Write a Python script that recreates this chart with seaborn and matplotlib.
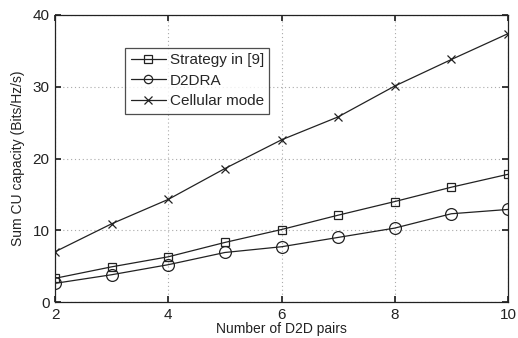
import matplotlib
matplotlib.use("Agg")
import matplotlib.pyplot as plt
import seaborn as sns
import pandas as pd

pairs = [2, 3, 4, 5, 6, 7, 8, 9, 10]
strategy9 = [3.3, 4.9, 6.3, 8.3, 10.1, 12.1, 14.0, 16.0, 17.8]
d2dra = [2.6, 3.8, 5.2, 6.9, 7.7, 9.0, 10.3, 12.3, 12.9]
cellular = [7.0, 10.9, 14.3, 18.6, 22.6, 25.8, 30.1, 33.8, 37.4]
series_names = ["Strategy in [9]", "D2DRA", "Cellular mode"]
markers = ["s", "o", "x"]
marker_sizes = [5.5, 8.5, 6]

sns.set_theme(style="white")
plt.rcParams["font.family"] = ["Liberation Sans", "DejaVu Sans"]

df = pd.DataFrame({
    "pairs": pairs * 3,
    "capacity": strategy9 + d2dra + cellular,
    "scheme": sum([[n] * len(pairs) for n in series_names], []),
})

fig = plt.figure(figsize=(5.18, 3.38), dpi=100)
ax = fig.add_axes([55 / 518, 36 / 338, 453 / 518, 287 / 338])

for name, mk, ms in zip(series_names, markers, marker_sizes):
    sub = df[df["scheme"] == name]
    sns.lineplot(data=sub, x="pairs", y="capacity", ax=ax, color="#222222",
                 marker=mk, markersize=ms, markerfacecolor="none",
                 markeredgecolor="#222222", markeredgewidth=0.9,
                 linewidth=0.9, label=name)

ax.set_xlim(2, 10)
ax.set_ylim(0, 40)
ax.set_xticks([2, 4, 6, 8, 10])
ax.set_yticks([0, 10, 20, 30, 40])
ax.grid(True, linestyle=(0, (1, 2.5)), color="#aaaaaa", linewidth=0.8)
ax.tick_params(direction="in", length=4, labelsize=11, colors="#222222",
               top=True, right=True, bottom=True, left=True, pad=4)
for s in ax.spines.values():
    s.set_color("#222222")
    s.set_linewidth(0.9)
ax.set_xlabel("Number of D2D pairs", fontsize=10, color="#222222", labelpad=0)
ax.set_ylabel("Sum CU capacity (Bits/Hz/s)", fontsize=10, color="#222222", labelpad=5)

leg = ax.legend(loc="upper left", bbox_to_anchor=(0.155, 0.885), fontsize=11,
                frameon=True, fancybox=False, handlelength=2.3,
                handletextpad=0.25, borderpad=0.35, labelspacing=0.42,
                borderaxespad=0)
leg.get_frame().set_edgecolor("#222222")
leg.get_frame().set_linewidth(0.9)
for h in leg.get_lines():
    h.set_markersize(6)

fig.savefig("out.png", dpi=100)
